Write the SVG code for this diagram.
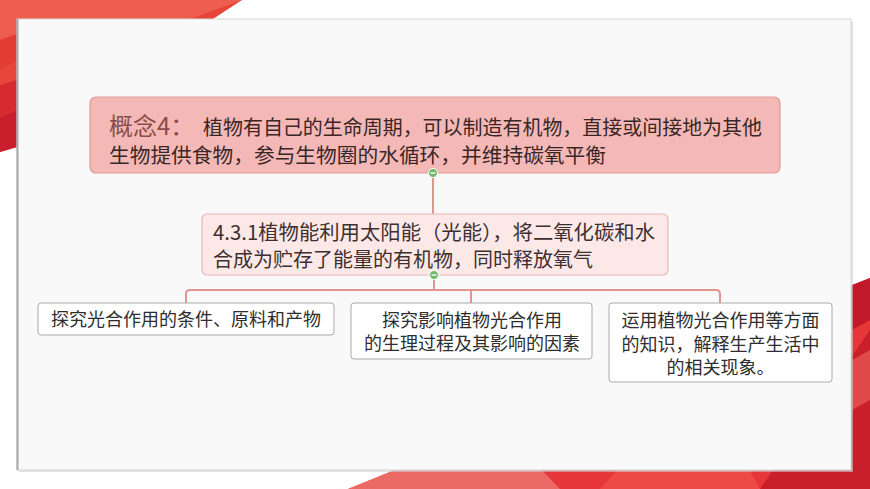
<svg xmlns="http://www.w3.org/2000/svg" width="870" height="489" viewBox="0 0 870 489">
<defs>
<style>
.cjk{font-family:"Noto Sans CJK SC","Noto Sans",sans-serif;}
.n1{fill:#f4b9b6;stroke:#df9b97;stroke-width:1.2;}
.n2{fill:#fbe8e7;stroke:#eab7b3;stroke-width:1.2;}
.leaf{fill:#ffffff;stroke:#a9a9a9;stroke-width:1;}
.conn{fill:none;stroke:#e0958e;stroke-width:2;}
.t1{font-size:20px;fill:#3a2626;}
.t2{font-size:20px;fill:#3e3030;}
.tl{font-size:18px;fill:#2e2e2e;}
</style>
</defs>
<rect x="0" y="0" width="870" height="489" fill="#ffffff"/>
<!-- top-left decoration -->
<g id="deco-tl">
<polygon points="0,0 242,0 17,147 0,152" fill="#e8453a"/>
<polygon points="0,0 242,0 190,19 60,19 0,40" fill="#ee5e4f"/>
<polygon points="0,40 60,19 17,60 0,70" fill="#e23c33"/>
<polygon points="0,85 17,80 17,110 0,118" fill="#d42a30"/>
<polygon points="0,118 17,110 17,147 0,152" fill="#c91f2c"/>
</g>
<!-- bottom-right decoration -->
<g id="deco-br">
<polygon points="348,489 870,278 870,489" fill="#e6363a"/>
<polygon points="348,489 500,427 560,489" fill="#ec6a66"/>
<polygon points="600,489 700,380 760,489" fill="#ee4a45"/>
<polygon points="760,489 870,330 870,489" fill="#c81f2a"/>
<polygon points="852,285 870,278 870,320 852,330" fill="#c2192a"/>
<polygon points="852,360 870,350 870,400 852,410" fill="#e04a48"/>
</g>
<!-- panel -->
<rect x="19" y="21" width="834" height="451" fill="#cfcfcf" opacity="0.6"/>
<rect x="17" y="19" width="834" height="451" fill="#f9f9f9" stroke="#d8d8d8" stroke-width="1"/>
<line x1="17.5" y1="19" x2="17.5" y2="470" stroke="#a8a8a8" stroke-width="2"/>

<g id="connectors">
<line class="conn" x1="433" y1="173" x2="433" y2="214"/>
<line class="conn" x1="434" y1="275" x2="434" y2="290"/>
<path class="conn" d="M186,304 V294 Q186,290 190,290 H716 Q720,290 720,294 V303"/>
<line class="conn" x1="471" y1="290" x2="471" y2="303"/>
</g>

<g id="node-concept">
<rect class="n1" x="90" y="97" width="690" height="76" rx="6"/>
<text class="cjk" x="109" y="135" font-size="24" fill="#8a4c4a">概念4：</text>
<text class="cjk t1" x="203" y="135" textLength="559" lengthAdjust="spacingAndGlyphs">植物有自己的生命周期，可以制造有机物，直接或间接地为其他</text>
<text class="cjk t1" x="109" y="163" textLength="497" lengthAdjust="spacingAndGlyphs">生物提供食物，参与生物圈的水循环，并维持碳氧平衡</text>
</g>

<g id="node-431">
<rect class="n2" x="202" y="214" width="466" height="61" rx="5"/>
<text class="cjk t2" x="213" y="240" textLength="442" lengthAdjust="spacingAndGlyphs">4.3.1植物能利用太阳能（光能），将二氧化碳和水</text>
<text class="cjk t2" x="213" y="267">合成为贮存了能量的有机物，同时释放氧气</text>
</g>

<g id="toggle-1">
<circle cx="433" cy="173" r="4.5" fill="#6cb96a" stroke="#ffffff" stroke-width="1"/>
<line x1="430.5" y1="173" x2="435.5" y2="173" stroke="#ffffff" stroke-width="1.4"/>
</g>
<g id="toggle-2">
<circle cx="434" cy="275" r="4.5" fill="#6cb96a" stroke="#ffffff" stroke-width="1"/>
<line x1="431.5" y1="275" x2="436.5" y2="275" stroke="#ffffff" stroke-width="1.4"/>
</g>

<g id="leaf-1">
<rect class="leaf" x="38" y="303" width="296" height="32" rx="3"/>
<text class="cjk tl" x="51" y="326">探究光合作用的条件、原料和产物</text>
</g>
<g id="leaf-2">
<rect class="leaf" x="351" y="303" width="241" height="56" rx="3"/>
<text class="cjk tl" x="472" y="327" text-anchor="middle">探究影响植物光合作用</text>
<text class="cjk tl" x="472" y="350" text-anchor="middle">的生理过程及其影响的因素</text>
</g>
<g id="leaf-3">
<rect class="leaf" x="609" y="303" width="223" height="79" rx="3"/>
<text class="cjk tl" x="720.5" y="327" text-anchor="middle">运用植物光合作用等方面</text>
<text class="cjk tl" x="720.5" y="351" text-anchor="middle">的知识，解释生产生活中</text>
<text class="cjk tl" x="720.5" y="374" text-anchor="middle">的相关现象。</text>
</g>
</svg>
